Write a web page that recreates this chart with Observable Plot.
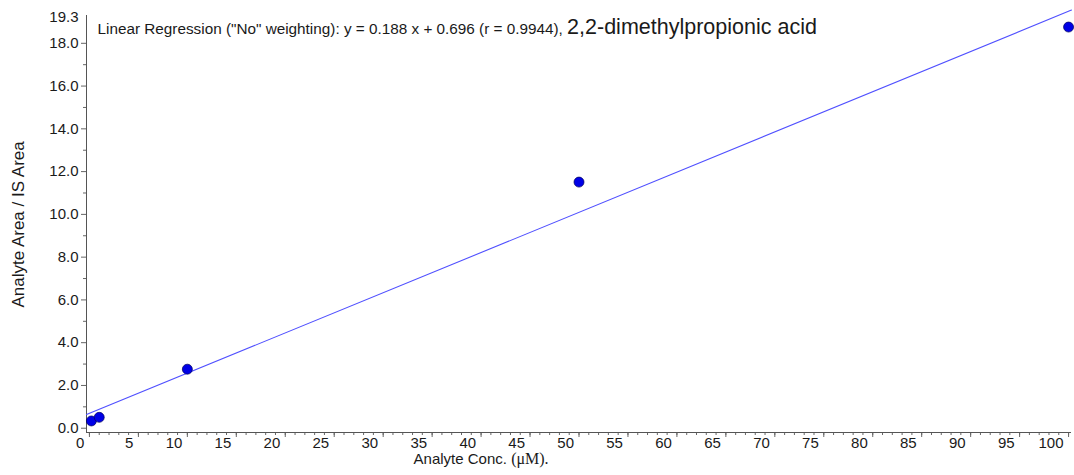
<!DOCTYPE html>
<html><head><meta charset="utf-8">
<script src="https://cdn.jsdelivr.net/npm/d3@7"></script>
<script src="https://cdn.jsdelivr.net/npm/@observablehq/plot@0.6"></script>
<style>html,body{margin:0;padding:0;background:#fff;}</style>
</head><body><div id="chart"></div>
<script>
// ---- data ----
const concentrations = [0.2, 1, 10, 50, 100];
const areaRatios = [0.34, 0.51, 2.76, 11.51, 18.76];
const fitSlope = 0.188;
const fitIntercept = 0.696;
const xMajorTicks = d3.range(0, 101, 5);
const xMinorTicks = d3.range(0, 101, 1);
const yMajorTicks = d3.range(0, 19, 2);
const yMinorTicks = [1, 3, 5, 7, 9, 11, 13, 15, 17];
const yTopLabel = 19.3;
const titleText = 'Linear Regression ("No" weighting): y = 0.188 x + 0.696 (r = 0.9944), ';
const compoundName = "2,2-dimethylpropionic acid";
const xLabel = "Analyte Conc. ";
const xUnit = "(\u03BCM).";
const yLabel = "Analyte Area / IS Area";

// ---- build ----
const xDomain = [-0.3, 100.3];
const yDomain = [-0.2, yTopLabel];
const points = concentrations.map((c, i) => ({x: c, y: areaRatios[i]}));
const fitLine = xDomain.map(x => ({x, y: fitSlope * x + fitIntercept}));
const tickColor = "#666";

const plot = Plot.plot({
  width: 1074, height: 475,
  marginLeft: 86, marginRight: 3, marginTop: 15, marginBottom: 43,
  x: {domain: xDomain},
  y: {domain: yDomain},
  style: {fontFamily: "'Liberation Sans', Arial, sans-serif", fontSize: "15px", color: "#1a1a1a", background: "#fff"},
  marks: [
    Plot.axisX(xMinorTicks, {tickSize: 3, tickFormat: () => "", label: null, stroke: tickColor}),
    Plot.axisX(xMajorTicks, {tickSize: 5, tickFormat: () => "", label: null, stroke: tickColor}),
    Plot.axisY(yMinorTicks, {tickSize: 3, tickFormat: () => "", label: null, stroke: tickColor}),
    Plot.axisY(yMajorTicks, {tickSize: 5, tickFormat: () => "", label: null, stroke: tickColor}),
    Plot.text(xMajorTicks, {x: d => d, frameAnchor: "bottom", dy: 15, dx: -5, textAnchor: "end", text: d => String(d), fontSize: 15}),
    Plot.text(yMajorTicks, {y: d => d, frameAnchor: "left", dx: -8, textAnchor: "end", text: d => d.toFixed(1), fontSize: 15}),
    Plot.text([yTopLabel], {y: d => d, frameAnchor: "left", dx: -8, dy: 1.5, textAnchor: "end", text: d => d.toFixed(1), fontSize: 15}),
    Plot.ruleX([xDomain[0]], {stroke: "#555", strokeWidth: 1}),
    Plot.ruleY([yDomain[0]], {stroke: "#555", strokeWidth: 1}),
    Plot.line(fitLine, {x: "x", y: "y", stroke: "#5050ff", strokeWidth: 1.1, clip: false}),
    Plot.dot(points, {x: "x", y: "y", r: 5, fill: "#0000e6", stroke: "#00005a", strokeWidth: 0.7}),
    Plot.text([titleText], {frameAnchor: "top-left", dx: 11, dy: 14, textAnchor: "start", lineAnchor: "middle", fontSize: 15.3, text: d => d}),
    Plot.text([{t: yLabel, y: 9.53}], {y: "y", text: "t", frameAnchor: "left", textAnchor: "middle", dx: -68, rotate: -90, fontSize: 17}),
    Plot.text([{t: xLabel, x: 40.0}], {x: "x", text: "t", frameAnchor: "bottom", textAnchor: "middle", dy: 31, fontSize: 15})
  ]
});

// add mixed-font spans
d3.select(plot).selectAll("text").each(function() {
  if (this.textContent === titleText) {
    d3.select(this).attr("xml:space", "preserve").append("tspan").attr("font-size", 21.5).text(compoundName);
  } else if (this.textContent === xLabel) {
    d3.select(this).attr("xml:space", "preserve").append("tspan").attr("font-family", "'Liberation Serif', 'Times New Roman', serif").attr("font-size", 16).text(xUnit);
  }
});
document.getElementById("chart").appendChild(plot);
</script>
</body></html>
